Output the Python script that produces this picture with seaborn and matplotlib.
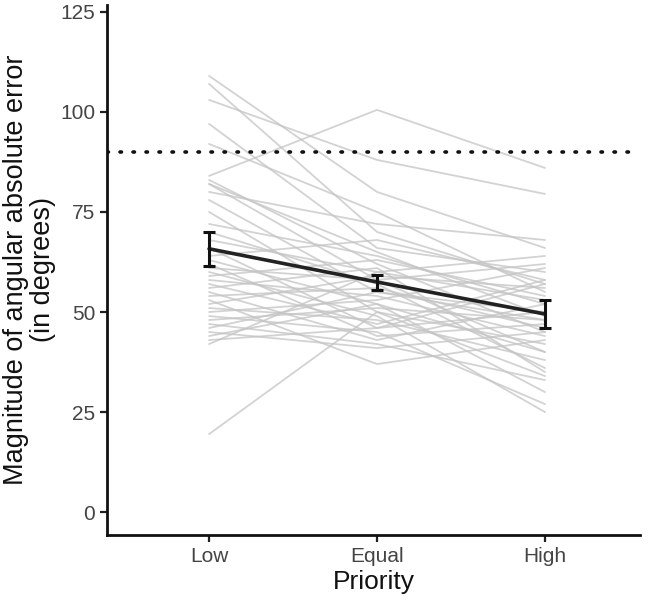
import numpy as np
import pandas as pd
import matplotlib
matplotlib.use("Agg")
import matplotlib.pyplot as plt
import seaborn as sns

# ---- data ----
categories = ["Low", "Equal", "High"]

low_vals = [109, 107, 103, 97, 92, 84, 83, 82, 80, 78, 75, 72, 70, 68, 66, 64, 63, 62, 61, 60,
            59, 58, 57, 56, 55, 54, 53, 52, 51, 50, 49, 48, 47, 46, 45, 44, 43, 42, 82, 19.5]
equal_vals = [80, 70, 88, 66, 75, 100.5, 62, 58, 72, 55, 50, 64, 57, 60, 46, 68, 52, 44, 58, 49,
              63, 54, 47, 61, 43, 56, 37, 59, 48, 53, 45, 51, 42, 55, 41, 52, 46, 60, 65, 50]
high_vals = [66, 57, 79.5, 60, 55, 86, 45, 40, 68, 48, 42, 52, 36, 64, 50, 58, 30, 47, 62, 25,
             54, 44, 58, 35, 52, 46, 43, 56, 38, 61, 27, 48, 33, 50, 45, 40, 57, 53, 49, 34]

mean_vals = [65.8, 57.5, 49.5]
err_low = [61.5, 55.6, 46.0]
err_high = [70.0, 59.3, 53.0]

reference_line = 90
y_ticks = [0, 25, 50, 75, 100, 125]

# ---- build long table ----
n = len(low_vals)
rows = []
for i in range(n):
    for j, vals in enumerate([low_vals, equal_vals, high_vals]):
        rows.append({"pid": i, "pos": j, "val": vals[i]})
df = pd.DataFrame(rows)
summary = pd.DataFrame({"pos": range(len(categories)), "mean": mean_vals,
                        "lo": err_low, "hi": err_high})

sns.set_theme(style="ticks")
plt.rcParams["font.family"] = ["Liberation Sans", "DejaVu Sans"]

fig = plt.figure(figsize=(6.57, 6.02), dpi=100)
ax = fig.add_axes([0.163, 0.111, 0.811, 0.881])

sns.lineplot(data=df, x="pos", y="val", units="pid", estimator=None,
             color="#c4c4c4", alpha=0.75, linewidth=1.3, ax=ax, legend=False)

ax.axhline(reference_line, color="#111111", linestyle=(0, (0.4, 3.2)), linewidth=2.6,
           dash_capstyle="round")

sns.lineplot(data=summary, x="pos", y="mean", color="#222222", linewidth=2.6, ax=ax,
             legend=False)
ax.errorbar(summary["pos"], summary["mean"],
            yerr=[summary["mean"] - summary["lo"], summary["hi"] - summary["mean"]],
            fmt="none", ecolor="#111111", elinewidth=2.2, capsize=4, capthick=2.2)

ax.set_xlim(-0.607, 2.565)
ax.set_ylim(-5.75, 126.75)
ax.set_xticks(range(len(categories)))
ax.set_xticklabels(categories)
ax.set_yticks(y_ticks)

ax.set_xlabel("Priority", fontsize=19, color="#111111", labelpad=3)
ax.set_ylabel("Magnitude of angular absolute error\n(in degrees)", fontsize=19.5,
              color="#111111", labelpad=3, linespacing=1.05)

ax.tick_params(axis="both", labelsize=15, labelcolor="#444444", color="#222222",
               width=1.6, length=5)
for s in ["top", "right"]:
    ax.spines[s].set_visible(False)
for s in ["left", "bottom"]:
    ax.spines[s].set_linewidth(2.0)
    ax.spines[s].set_color("#111111")

fig.savefig("out.png", dpi=100)
